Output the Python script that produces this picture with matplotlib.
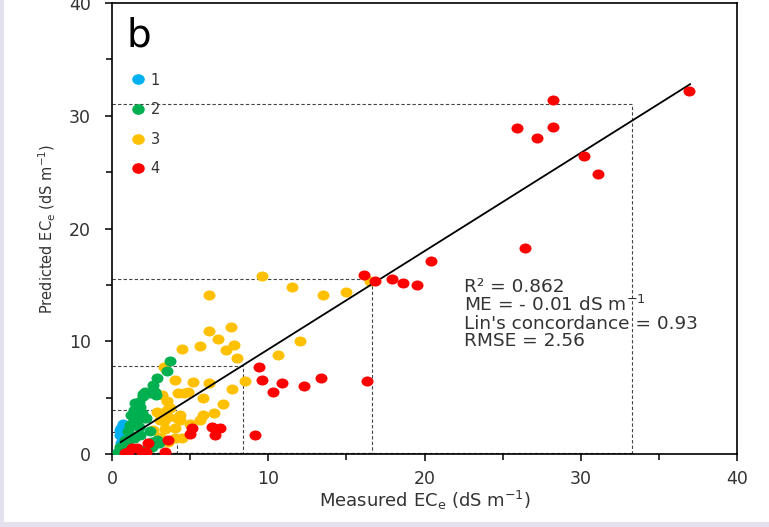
import matplotlib
matplotlib.use("Agg")
import matplotlib.pyplot as plt
from matplotlib.patches import Rectangle
from matplotlib.lines import Line2D
from matplotlib.path import Path
from matplotlib.transforms import Affine2D

plt.rcParams['font.family'] = ['DejaVu Sans']
plt.rcParams['mathtext.fontset'] = 'dejavusans'

## class 1 .. 4 (measured, predicted ECe)
x1 = [0.5, 0.6, 0.7, 0.8, 0.6, 0.5, 0.7, 0.9, 0.6, 0.8, 1.0, 0.5, 0.7]
y1 = [0.3, 1.0, 2.7, 2.0, 2.3, 1.7, 1.4, 1.8, 0.6, 0.9, 2.5, 2.1, 0.1]

x2 = [3.7, 3.5, 2.9, 2.65, 2.75, 2.4, 2.1, 2.0, 2.0, 1.7, 1.8, 1.4, 1.6, 2.2, 2.0,
      1.7, 1.4, 1.25, 1.7, 1.05, 2.4, 1.8, 1.4, 0.85, 0.5, 2.55, 0.4, 1.0, 1.2, 3.0,
      2.8, 1.5, 1.9, 2.55, 2.3, 0.7, 1.15, 2.9]
y2 = [8.25, 7.4, 6.7, 6.1, 5.5, 5.4, 5.5, 5.3, 5.1, 4.6, 4.2, 3.9, 3.6, 3.2, 3.2,
      3.3, 3.0, 2.6, 2.4, 2.0, 2.0, 1.7, 1.4, 1.2, 0.65, 0.65, 0.2, 0.8, 3.5, 1.0,
      5.2, 4.5, 3.6, 1.1, 0.65, 0.5, 2.6, 1.2]

x3 = [9.6, 16.5, 11.5, 6.2, 13.5, 15.0, 6.2, 7.6, 6.8, 5.6, 7.8, 7.3, 4.5, 8.0,
      12.0, 10.6, 8.5, 7.7, 5.2, 6.2, 4.6, 4.85, 5.85, 7.1, 6.5, 5.8, 5.0, 4.35,
      3.3, 4.0, 4.25, 3.2, 3.5, 3.5, 2.85, 3.6, 3.1, 4.35, 2.6, 3.4, 4.0, 3.1,
      3.1, 4.5, 5.6, 4.0, 3.7, 3.3, 4.15, 3.6]
y3 = [15.8, 15.3, 14.8, 14.1, 14.1, 14.4, 10.9, 11.3, 10.2, 9.6, 9.7, 9.2, 9.3, 8.5,
      10.0, 8.8, 6.5, 5.8, 6.4, 6.3, 5.4, 5.5, 5.0, 4.4, 3.6, 3.5, 2.7, 3.5,
      7.75, 6.6, 5.4, 5.2, 4.7, 3.9, 3.75, 3.3, 3.0, 3.0, 2.1, 2.2, 2.3, 1.5,
      1.2, 1.4, 3.0, 1.4, 4.05, 2.9, 3.2, 1.1]

x4 = [36.9, 28.2, 25.9, 28.2, 27.2, 30.2, 31.1, 26.4, 20.4, 16.15, 16.8, 17.9, 18.6,
      19.5, 9.4, 9.6, 10.9, 10.3, 12.3, 13.4, 16.3, 5.1, 5.0, 6.4, 6.9, 6.6, 9.15,
      3.6, 3.4, 2.3, 1.6, 1.05, 1.9, 1.25, 0.85, 2.2]
y4 = [32.2, 31.4, 28.9, 29.0, 28.0, 26.4, 24.8, 18.3, 17.1, 15.9, 15.35, 15.5, 15.2,
      15.0, 7.7, 6.6, 6.3, 5.5, 6.0, 6.7, 6.5, 2.3, 1.8, 2.4, 2.3, 1.7, 1.7,
      1.25, 0.2, 0.95, 0.5, 0.2, 0.2, 0.5, 0.1, 0.15]

## class limits (measured / predicted)
lim_x = [2.1, 4.15, 8.4, 16.65, 33.3]
lim_y = [1.95, 3.9, 7.8, 15.5, 31.0]

## fitted line
fit_x = [0.55, 37.0]
fit_y = [1.05, 32.8]

labels = ['1', '2', '3', '4']
colors = ['#00b0f0', '#00b050', '#ffc000', '#ff0000']

# slightly wide dots like in the original
dot = Affine2D().scale(1.2, 1.0).transform_path(Path.unit_circle())

fig = plt.figure(figsize=(7.69, 5.27), dpi=100, facecolor='#e4e0ee')
fig.patches.append(Rectangle((4 / 769, 5 / 527), 1, 1, transform=fig.transFigure,
                             facecolor='white', edgecolor='none', zorder=-10))
ax = fig.add_axes([112 / 769, 73 / 527, 625 / 769, 451 / 527])
ax.set_facecolor('none')

for xx, yy in zip(lim_x, lim_y):
    ax.plot([0, xx, xx], [yy, yy, 0], ls=(0, (3, 2)), color='#444444', lw=0.8, zorder=1)
    ax.plot([0, xx], [0.05, 0.05], ls=(0, (3, 2)), color='#444444', lw=0.8, zorder=1)

s = 75
ax.scatter(x3, y3, s=s, marker=dot, color=colors[2], lw=0, zorder=2)
ax.scatter(x1, y1, s=s, marker=dot, color=colors[0], lw=0, zorder=3)
ax.scatter(x2, y2, s=s, marker=dot, color=colors[1], lw=0, zorder=4)
ax.plot(fit_x, fit_y, color='black', lw=1.3, zorder=5)
ax.scatter(x4, y4, s=s, marker=dot, color=colors[3], lw=0, zorder=6)

handles = [Line2D([], [], marker=dot, ls='', color=c, markersize=8) for c in colors]
ax.legend(handles, labels, loc='upper left', bbox_to_anchor=(0.013, 0.875), frameon=False,
          fontsize=10.5, handlelength=0.6, handletextpad=0.6, labelspacing=1.0,
          labelcolor='#333333')

ax.text(0.95, 36.1, 'b', fontsize=28, va='baseline', ha='left', color='black')
ax.text(22.5, 15.6, "R\u00b2 = 0.862\nME = - 0.01 dS m$^{-1}$\nLin's concordance = 0.93\nRMSE = 2.56",
        fontsize=13.3, va='top', ha='left', color='#333333', linespacing=0.95)

ax.set_xlim(0, 40)
ax.set_ylim(0, 40)
ax.set_xticks([0, 10, 20, 30, 40])
ax.set_yticks([0, 10, 20, 30, 40])
ax.set_xticks([5, 15, 25, 35], minor=True)
ax.set_yticks([5, 15, 25, 35], minor=True)
ax.tick_params(which='both', direction='out', width=1.1, color='black', labelsize=12.5,
               labelcolor='#333333')
ax.tick_params(which='major', length=5)
ax.tick_params(which='minor', length=4)
ax.tick_params(axis='y', which='major', pad=10)
ax.tick_params(axis='x', which='major', pad=6.5)
for sp in ax.spines.values():
    sp.set_linewidth(1.2)

ax.set_xlabel('Measured EC$_\\mathrm{e}$ (dS m$^{-1}$)', fontsize=13, color='#333333', labelpad=1)
ax.set_ylabel('Predicted EC$_\\mathrm{e}$ (dS m$^{-1}$)', fontsize=10.5, color='#333333', labelpad=8)

fig.savefig('out.png', dpi=100, facecolor=fig.get_facecolor())
